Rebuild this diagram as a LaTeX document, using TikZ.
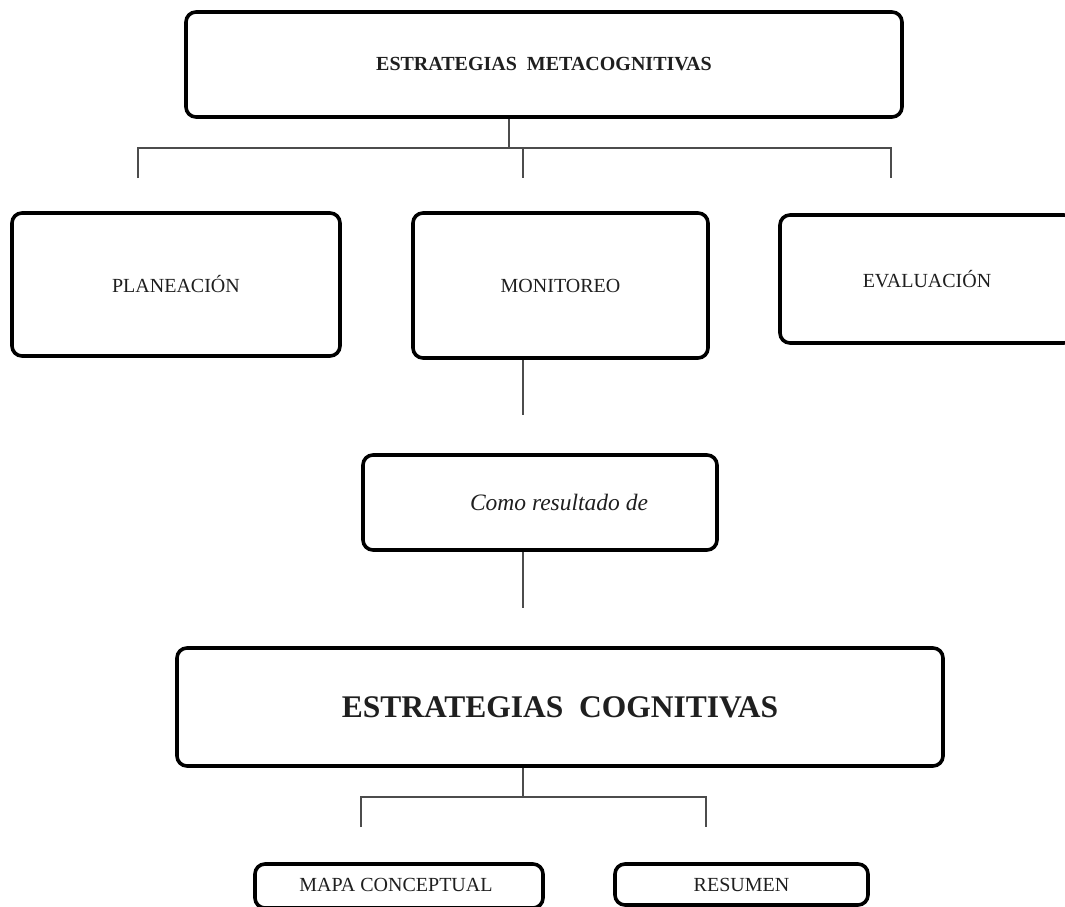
\documentclass[tikz,border=0pt]{standalone}
\usepackage{fontspec}
\setmainfont{Liberation Serif}
\begin{document}
\begin{tikzpicture}[x=1pt,y=-1pt,
  box/.style={draw=black, line width=3.6pt, rounded corners=10pt, inner sep=0pt, fill=white, text=black!88},
  conn/.style={draw=black!70, line width=1.4pt},
  lbl/.style={font=\fontsize{20}{24}\selectfont}
]
\clip (0,0) rectangle (1065,907);
\fill[white] (0,0) rectangle (1065,907);

% boxes
\node[box, minimum width=716pt, minimum height=105pt, font=\fontsize{20}{24}\selectfont\bfseries] (meta) at (544,64.5) {ESTRATEGIAS\ \ METACOGNITIVAS};
\node[box, lbl, minimum width=328pt, minimum height=143pt] (plan) at (176,284.5) {PLANEACIÓN};
\node[box, lbl, minimum width=295pt, minimum height=145pt] (moni) at (560.5,285.5) {MONITOREO};
\node[box, lbl, minimum width=294pt, minimum height=128pt] (eval) at (927,279) {EVALUACIÓN};
\node[box, minimum width=354pt, minimum height=95pt] (como) at (540,502.5) {};
\node[font=\fontsize{23.5}{28}\selectfont\itshape, text=black!88, inner sep=0pt] (comot) at (559,502) {Como resultado de};
\node[box, minimum width=766pt, minimum height=118pt, font=\fontsize{31.5}{36}\selectfont\bfseries] (cog) at (560,707) {ESTRATEGIAS\ \ COGNITIVAS};
\node[box, minimum width=288pt, minimum height=44pt] (mapa) at (399,886) {};
\node[lbl, text=black!88, inner sep=0pt] (mapat) at (396,885) {MAPA CONCEPTUAL};
\node[box, lbl, minimum width=253pt, minimum height=41pt] (res) at (741.5,884.5) {RESUMEN};

% top connectors
\coordinate (j1) at (509,148);
\coordinate (hl) at (138,148);
\coordinate (hr) at (891,148);
\coordinate (hm) at (523,148);
\coordinate (dl) at (138,178);
\coordinate (dm) at (523,178);
\coordinate (dr) at (891,178);
\draw[conn] (meta.south -| j1) -- (j1);
\draw[conn] (dl) -- (hl) -- (hr) -- (dr);
\draw[conn] (hm) -- (dm);

% middle connectors
\coordinate (c1) at (523,415);
\draw[conn] (moni.south -| c1) -- (c1);
\coordinate (c2) at (523,608);
\draw[conn] (como.south -| c2) -- (c2);

% bottom connectors
\coordinate (j2) at (523,797);
\coordinate (bl) at (361,797);
\coordinate (br) at (706,797);
\coordinate (el) at (361,827);
\coordinate (er) at (706,827);
\draw[conn] (cog.south -| j2) -- (j2);
\draw[conn] (el) -- (bl) -- (br) -- (er);
\end{tikzpicture}
\end{document}
